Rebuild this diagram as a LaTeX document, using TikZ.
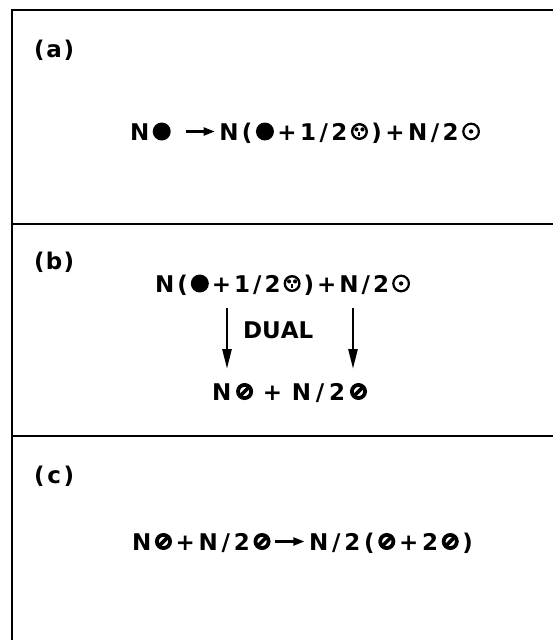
\documentclass[tikz,border=0pt]{standalone}
\usepackage{fontspec}
\setmainfont{DejaVu Sans}[BoldFont={DejaVu Sans Bold}]
\usetikzlibrary{arrows.meta}
\newcommand\g{\hfil}
\newcommand\symfull{\tikz[baseline=0pt]{\fill (0pt,8.5pt) circle (9pt);}}
\newcommand\symtwo{\tikz[baseline=0pt]{\draw[line width=2.4pt] (0pt,8.5pt) circle (7.3pt);
  \fill (-3pt,10.6pt) circle (2.1pt) (3pt,10.6pt) circle (2.1pt);
  \draw[line width=2pt] (0pt,8pt)--(0pt,3.6pt);}}
\newcommand\symdot{\tikz[baseline=0pt]{\draw[line width=2.2pt] (0pt,8.5pt) circle (7.8pt);
  \fill (0pt,8.5pt) circle (2.2pt);}}
\newcommand\symslash{\tikz[baseline=0pt]{\draw[line width=3.8pt] (0pt,8.5pt) circle (6.6pt);
  \draw[line width=3.6pt] (-4pt,4.5pt)--(4pt,12.5pt);}}
\newcommand\rarr{\tikz[baseline=0pt]{\draw[line width=2.2pt,-{Triangle[length=11pt,width=8pt]}] (0pt,8.5pt)--(29pt,8.5pt);}}
\tikzset{
  frame/.style={line width=2.2pt},
  eq/.style={anchor=base,inner sep=0pt,font=\fontsize{23}{27}\selectfont\bfseries},
  lab/.style={anchor=base west,inner sep=0pt,font=\fontsize{23}{27}\selectfont\bfseries},
  down/.style={line width=2.6pt,-{Triangle[length=20pt,width=9pt]}}
}
\begin{document}
\begin{tikzpicture}[x=1pt,y=-1pt]
\useasboundingbox (0,0) rectangle (553,640);
% frame
\draw[frame] (12,640) -- (12,10) -- (553,10);
\draw[frame] (12,224) -- (553,224);
\draw[frame] (12,436) -- (553,436);
% (a)
\node[lab] (la) at (34,57) {\makebox[40pt][s]{(\g a\g)}};
\node[eq] (ea) at (305,140) {\makebox[350pt][s]{N\g\symfull\g\g\g\g\rarr\g N\g(\g\symfull\g+\g 1\g/\g 2\g\symtwo\g)\g+\g N\g/\g 2\g\symdot}};
% (b)
\node[lab] (lb) at (34,269) {\makebox[40pt][s]{(\g b\g)}};
\node[eq] (b1) at (282.5,292) {\makebox[255pt][s]{N\g(\g\symfull\g+\g 1\g/\g 2\g\symtwo\g)\g+\g N\g/\g 2\g\symdot}};
\node[eq] (dual) at (277.5,338) {\makebox[69pt][s]{D\g U\g A\g L}};
\node[eq] (b2) at (289.5,400) {\makebox[155pt][s]{N\g\symslash\g\g+\g\g N\g/\g 2\g\symslash}};
\coordinate (a1s) at (227,308);
\coordinate (a1e) at (227,369);
\coordinate (a2s) at (353,308);
\coordinate (a2e) at (353,369);
\draw[down] (a1s) -- (a1e);
\draw[down] (a2s) -- (a2e);
% (c)
\node[lab] (lc) at (34,483) {\makebox[40pt][s]{(\g c\g)}};
\node[eq] (ec) at (302.5,550) {\makebox[341pt][s]{N\g\symslash\g+\g N\g/\g 2\g\symslash\g\rarr\g N\g/\g 2\g(\g\symslash\g+\g 2\g\symslash\g)}};
\end{tikzpicture}
\end{document}
